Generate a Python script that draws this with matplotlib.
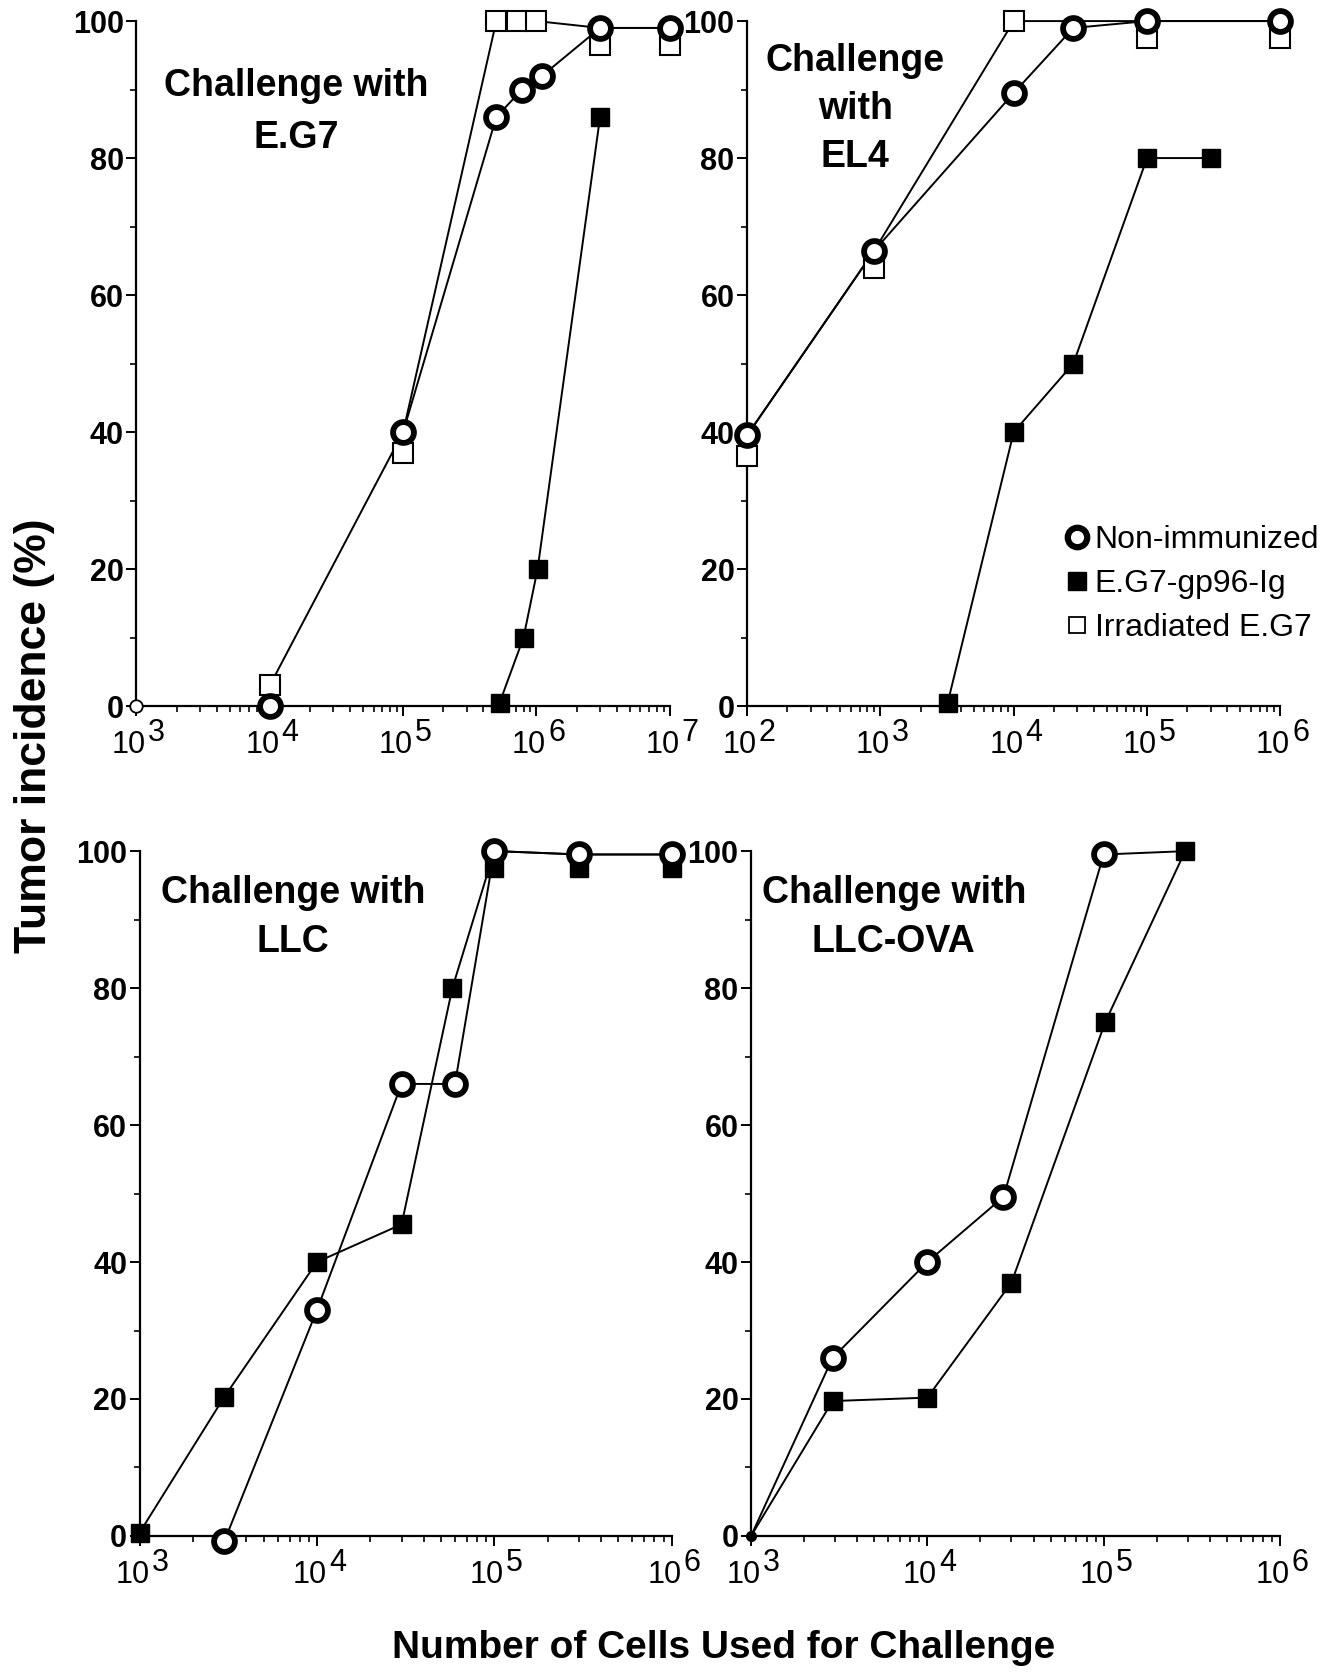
import matplotlib
matplotlib.use("Agg")
import matplotlib.pyplot as plt
from matplotlib.lines import Line2D
from matplotlib.ticker import FixedLocator, LogLocator, NullFormatter

plt.rcParams['font.family'] = ['Liberation Sans', 'DejaVu Sans']

# ---- data (tumor incidence %, vs number of cells) ----
# Challenge with E.G7
eg7_non_x = [1e3, 1e4, 1e5, 5e5, 7.8e5, 1.1e6, 3e6, 1e7]
eg7_non_y = [0, 0, 40, 86, 90, 92, 99, 99]
eg7_vac_x = [5.3e5, 8e5, 1.02e6, 3e6]
eg7_vac_y = [0.5, 10, 20, 86]
eg7_irr_x = [1e4, 1e5, 5e5, 7.2e5, 1e6, 3e6, 1e7]
eg7_irr_y = [3, 40, 100, 100, 100, 99, 99]
eg7_irr_mark_y = [3, 37, 100, 100, 100, 96.5, 96.5]

# Challenge with EL4
el4_non_x = [1e2, 9e2, 1e4, 2.8e4, 1e5, 1e6]
el4_non_y = [39.5, 66.5, 89.5, 99, 100, 100]
el4_vac_x = [3.2e3, 1e4, 2.8e4, 1e5, 3e5]
el4_vac_y = [0.5, 40, 50, 80, 80]
el4_irr_x = [1e2, 9e2, 1e4, 1e5, 1e6]
el4_irr_y = [39.5, 66.5, 100, 100, 100]
el4_irr_mark_y = [36.5, 64, 100, 97.5, 97.5]

# Challenge with LLC
llc_non_x = [3e3, 1e4, 3e4, 6e4, 1e5, 3e5, 1e6]
llc_non_y = [-0.8, 33, 66, 66, 100, 99.5, 99.5]
llc_vac_x = [1e3, 3e3, 1e4, 3e4, 5.8e4, 1e5, 3e5, 1e6]
llc_vac_y = [0.5, 20.3, 40, 45.5, 80, 100, 99.5, 99.5]
llc_vac_mark_y = [0.5, 20.3, 40, 45.5, 80, 97.5, 97.5, 97.5]

# Challenge with LLC-OVA
ova_non_x = [1e3, 2.9e3, 1e4, 2.7e4, 1e5, 3e5]
ova_non_y = [0, 26, 40, 49.5, 99.5, 100]
ova_vac_x = [1e3, 2.9e3, 1e4, 3e4, 1.02e5, 2.9e5]
ova_vac_y = [0, 19.7, 20.2, 37, 75, 100]

legend_labels = ["Non-immunized", "E.G7-gp96-Ig", "Irradiated E.G7"]

LW = 1.4
circ = dict(marker='o', ms=15, mew=4.2, mfc='white', mec='black', ls='none', zorder=5, clip_on=False)
fsq = dict(marker='s', ms=13, mew=1, mfc='black', mec='black', ls='none', zorder=4, clip_on=False)
osq = dict(marker='s', ms=14, mew=1.5, mfc='white', mec='black', ls='none', zorder=3, clip_on=False)


def style_axis(ax, lo, hi):
    ax.set_xscale('log')
    ax.set_xlim(10.0 ** lo, 10.0 ** hi)
    ax.set_ylim(0, 100)
    for s in ['top', 'right']:
        ax.spines[s].set_visible(False)
    for s in ['left', 'bottom']:
        ax.spines[s].set_linewidth(1.6)
    ax.yaxis.set_major_locator(FixedLocator([0, 20, 40, 60, 80, 100]))
    ax.yaxis.set_minor_locator(FixedLocator([10, 30, 50, 70, 90]))
    ax.xaxis.set_major_locator(LogLocator(base=10, numticks=20))
    ax.xaxis.set_minor_locator(LogLocator(base=10, subs=range(2, 10), numticks=20))
    ax.xaxis.set_major_formatter(NullFormatter())
    ax.xaxis.set_minor_formatter(NullFormatter())
    ax.tick_params(which='major', length=7, width=1.4, direction='out')
    ax.tick_params(which='minor', length=4, width=1.2, direction='out')
    ax.tick_params(axis='y', labelsize=22, pad=2)
    for lab in ax.get_yticklabels():
        lab.set_fontweight('bold')
    # decade labels: "10" with a full-size raised exponent
    for e in range(lo, hi + 1):
        ax.annotate("10", xy=(10.0 ** e, 0), xycoords=('data', 'axes fraction'),
                    xytext=(7, -17), textcoords='offset points', ha='right', va='top',
                    fontsize=22, annotation_clip=False)
        ax.annotate(str(e), xy=(10.0 ** e, 0), xycoords=('data', 'axes fraction'),
                    xytext=(8.5, -8.5), textcoords='offset points', ha='left', va='top',
                    fontsize=22, annotation_clip=False)


def line(ax, x, y):
    ax.plot(x, y, '-', color='black', lw=LW, zorder=2, clip_on=False)


def title(ax, x, rows, ys):
    for txt, yy in zip(rows, ys):
        ax.text(x, yy, txt, transform=ax.transAxes, ha='center', va='center',
                fontsize=27, fontweight='bold')


fig = plt.figure(figsize=(13.3, 16.73), dpi=100)
ax1 = fig.add_axes([0.1026, 0.578, 0.401, 0.4094])
ax2 = fig.add_axes([0.5617, 0.578, 0.401, 0.4094])
ax3 = fig.add_axes([0.105, 0.0819, 0.400, 0.4094])
ax4 = fig.add_axes([0.5647, 0.0819, 0.3977, 0.4094])

# E.G7
line(ax1, eg7_non_x[2:], eg7_non_y[2:])
line(ax1, eg7_vac_x, eg7_vac_y)
line(ax1, eg7_irr_x, eg7_irr_y)
ax1.plot(eg7_irr_x, eg7_irr_mark_y, **osq)
ax1.plot(eg7_vac_x, eg7_vac_y, **fsq)
ax1.plot(eg7_non_x[1:], eg7_non_y[1:], **circ)
ax1.plot(eg7_non_x[:1], eg7_non_y[:1], marker='o', ms=9, mew=1.3, mfc='white', mec='black',
         ls='none', zorder=5, clip_on=False)
style_axis(ax1, 3, 7)
title(ax1, 0.30, ["Challenge with", "E.G7"], [0.905, 0.83])

# EL4
line(ax2, el4_non_x, el4_non_y)
line(ax2, el4_vac_x, el4_vac_y)
line(ax2, el4_irr_x, el4_irr_y)
ax2.plot(el4_irr_x, el4_irr_mark_y, **osq)
ax2.plot(el4_vac_x, el4_vac_y, **fsq)
ax2.plot(el4_non_x, el4_non_y, **circ)
style_axis(ax2, 2, 6)
title(ax2, 0.203, ["Challenge", "with", "EL4"], [0.942, 0.872, 0.801])

handles = [
    Line2D([], [], marker='o', ms=14, mew=4.5, mfc='white', mec='black', ls='none'),
    Line2D([], [], marker='s', ms=13, mew=1, mfc='black', mec='black', ls='none'),
    Line2D([], [], marker='s', ms=12, mew=1.3, mfc='white', mec='black', ls='none'),
]
ax2.legend(handles, legend_labels, loc='center left', bbox_to_anchor=(0.598, 0.178),
           frameon=False, fontsize=23, handlelength=0.7, handletextpad=0.2,
           labelspacing=0.45, borderpad=0, borderaxespad=0)

# LLC
line(ax3, llc_non_x, llc_non_y)
line(ax3, llc_vac_x, llc_vac_y)
ax3.plot(llc_vac_x, llc_vac_mark_y, **fsq)
ax3.plot(llc_non_x, llc_non_y, **circ)
style_axis(ax3, 3, 6)
title(ax3, 0.288, ["Challenge with", "LLC"], [0.939, 0.867])

# LLC-OVA
line(ax4, ova_non_x, ova_non_y)
line(ax4, ova_vac_x, ova_vac_y)
ax4.plot(ova_vac_x[1:], ova_vac_y[1:], **fsq)
ax4.plot(ova_non_x[1:-1], ova_non_y[1:-1], **circ)
ax4.plot(ova_non_x[:1], ova_non_y[:1], marker='o', ms=7, mfc='black', mec='black',
         ls='none', zorder=5, clip_on=False)
style_axis(ax4, 3, 6)
title(ax4, 0.27, ["Challenge with", "LLC-OVA"], [0.939, 0.867])

fig.text(0.544, 0.015, "Number of Cells Used for Challenge", ha='center', va='center',
         fontsize=28, fontweight='bold')
fig.text(0.026, 0.56, "Tumor incidence (%)", ha='center', va='center', rotation=90,
         fontsize=32, fontweight='bold')

fig.savefig("out.png", dpi=100)
